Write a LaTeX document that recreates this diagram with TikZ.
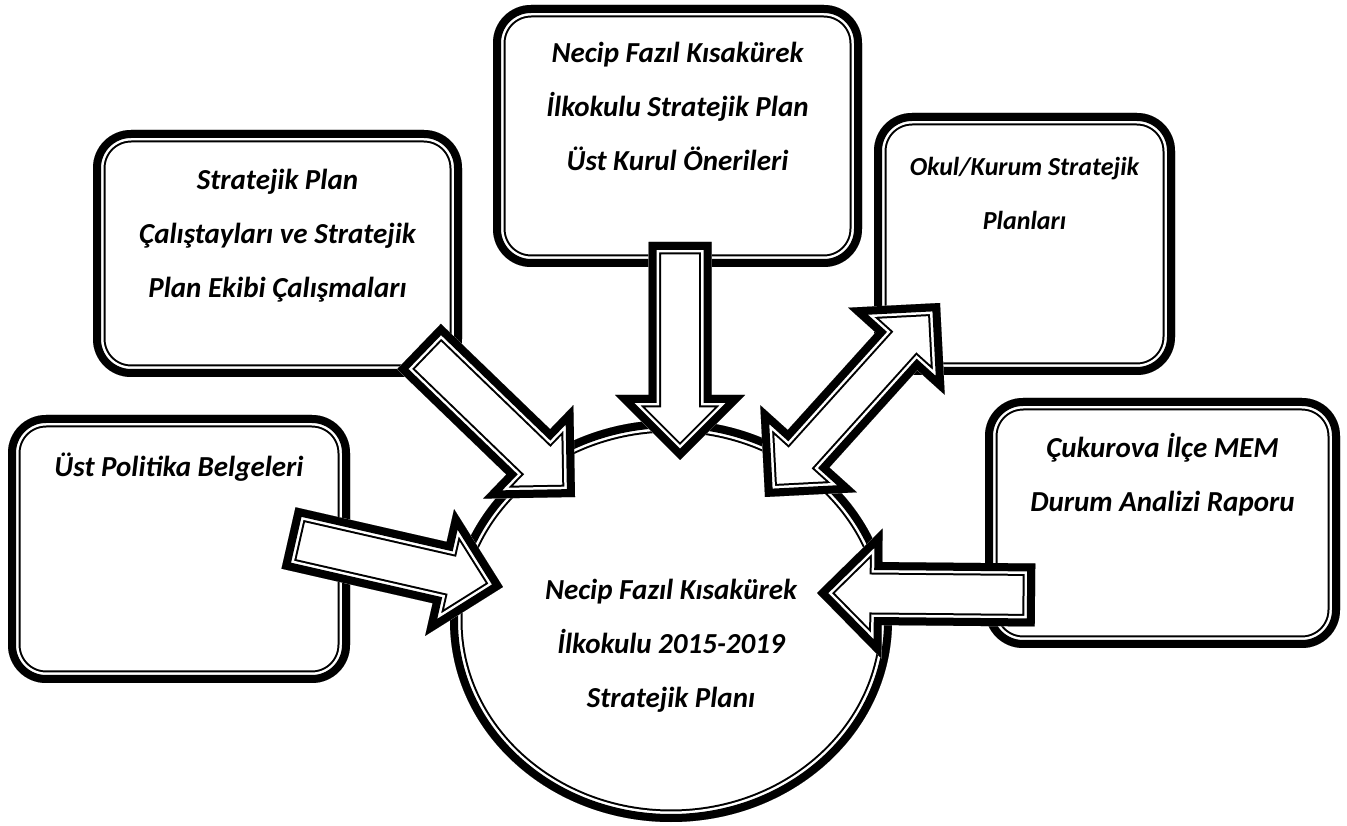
\documentclass[tikz,border=0pt]{standalone}
\usepackage{fontspec}
\setmainfont{Carlito}
\usetikzlibrary{calc,positioning,shapes.geometric}

% thick-thin border: drawn inside the current clip
\newcommand{\bands}[1]{%
  \draw[line width=25pt] #1;
  \draw[white,line width=21pt] #1;
  \draw[line width=16pt] #1;}
\newcommand{\thickthin}[1]{%
  \begin{scope}
    \clip #1;
    \fill[white] #1;
    \bands{#1}
  \end{scope}}
\newcommand{\getdir}[2]{%
  \path let \p1=($(#2)-(#1)$) in \pgfextra{%
    \pgfmathparse{atan2(\y1,\x1)}\xdef\arrang{\pgfmathresult}%
    \pgfmathparse{veclen(\x1,\y1)}\xdef\arrlen{\pgfmathresult}};}
% block arrow from tail to tip
\newcommand{\blockarrow}[3][31.5]{%
  \getdir{#2}{#3}
  \begin{scope}[shift={(#2)},rotate=\arrang]
    \thickthin{(0,-#1) -- (\arrlen-65,-#1) -- (\arrlen-65,-65) -- (\arrlen,0)
      -- (\arrlen-65,65) -- (\arrlen-65,#1) -- (0,#1) -- cycle}
  \end{scope}}
% block arrow with two heads
\newcommand{\dblarrow}[3][28]{%
  \getdir{#2}{#3}
  \begin{scope}[shift={(#2)},rotate=\arrang]
    \thickthin{(0,0) -- (65,65) -- (65,#1) -- (\arrlen-65,#1) -- (\arrlen-65,65)
      -- (\arrlen,0) -- (\arrlen-65,-65) -- (\arrlen-65,-#1) -- (65,-#1)
      -- (65,-65) -- cycle}
  \end{scope}}

\begin{document}
\begin{tikzpicture}[x=1pt,y=1pt,
  infobox/.style={rectangle,rounded corners=38pt,fill=white,inner sep=0pt,
    path picture={\bands{[rounded corners=38pt] (path picture bounding box.south west)
      rectangle (path picture bounding box.north east)}}},
  hub/.style={ellipse,fill=white,inner sep=0pt,minimum width=442pt,minimum height=402pt,
    path picture={\bands{(path picture bounding box.center) ellipse [x radius=221pt,y radius=201pt]}}},
  boxtext/.style={align=center,inner sep=0pt,font=\fontsize{29}{54}\selectfont\bfseries\itshape}]
\useasboundingbox (0,0) rectangle (1347,825);

% boxes
\node (belge) [infobox,minimum width=342pt,minimum height=268pt] at (179,276) {};
\node (calistay) [infobox,minimum width=369pt,minimum height=247pt] at (277.5,571.5) {};
\node (kurul) [infobox,minimum width=369pt,minimum height=262pt] at (677.5,689) {};
\node (okul) [infobox,minimum width=301pt,minimum height=262pt] at (1024.5,581) {};
\node (rapor) [infobox,minimum width=355pt,minimum height=250pt] at (1162.5,302) {};
\node (plan) [hub] at (671,204) {};

% arrow ends
\coordinate (belge-out) at (288.5,287);
\coordinate (belge-in) at (503,238);
\coordinate (calistay-out) at (419,478.5);
\coordinate (calistay-in) at (575,328);
\coordinate (kurul-out) at (680,583);
\coordinate (kurul-in) at (680,365);
\coordinate (okul-a) at (765,328);
\coordinate (okul-b) at (940,522);
\coordinate (rapor-out) at (1035,230);
\coordinate (rapor-in) at (817,232);

\blockarrow{belge-out}{belge-in}
\blockarrow{calistay-out}{calistay-in}
\blockarrow{kurul-out}{kurul-in}
\dblarrow{okul-a}{okul-b}
\blockarrow{rapor-out}{rapor-in}

% texts
\node (belge-t) [boxtext,below=24pt of belge.north] {\strut Üst Politika Belgeleri};
\node (calistay-t) [boxtext,below=22pt of calistay.north]
  {\strut Stratejik Plan\\Çalıştayları ve Stratejik\\Plan Ekibi Çalışmaları};
\node (kurul-t) [boxtext,below=20pt of kurul.north]
  {\strut Necip Fazıl Kısakürek\\İlkokulu Stratejik Plan\\Üst Kurul Önerileri};
\node (okul-t) [boxtext,font=\fontsize{26}{54}\selectfont\bfseries\itshape,below=25pt of okul.north]
  {\strut Okul/Kurum Stratejik\\Planları};
\node (rapor-t) [boxtext,below=22pt of rapor.north] {\strut Çukurova İlçe MEM\\Durum Analizi Raporu};
\node (plan-t) [boxtext,below=142pt of plan.north]
  {\strut Necip Fazıl Kısakürek\\İlkokulu 2015-2019\\Stratejik Planı};
\end{tikzpicture}
\end{document}
